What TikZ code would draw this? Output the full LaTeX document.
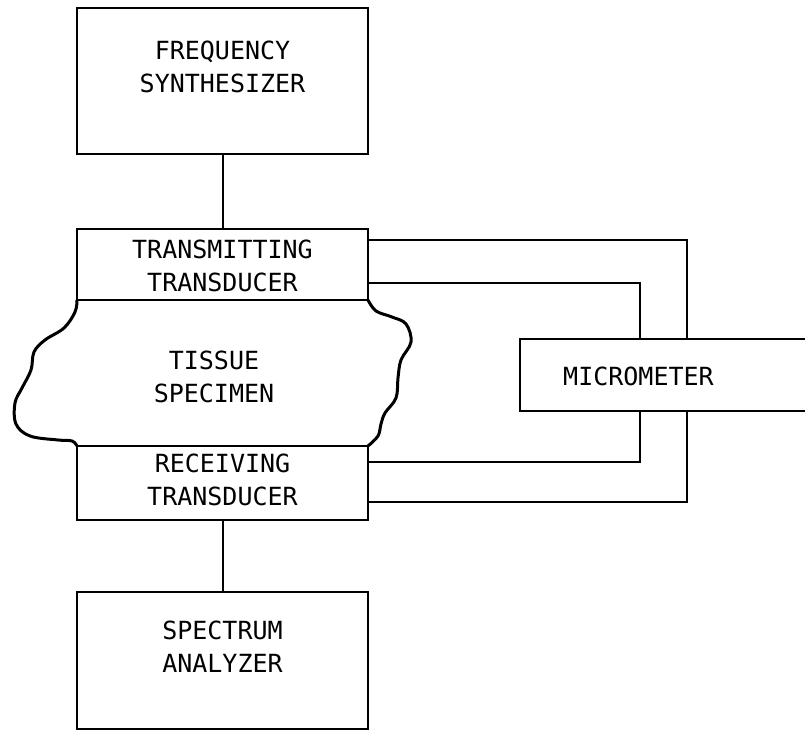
\documentclass[tikz,border=0pt]{standalone}
\usepackage{fontspec}
\newfontfamily\lettering{DejaVu Sans Mono}
\usepackage{tikz}

\begin{document}
\begin{tikzpicture}[x=0.5pt,y=-0.5pt]
\tikzstyle{every node}+=[inner sep=0pt]
\tikzstyle{unit}=[draw, line width=1pt, minimum width=145.5pt]
\tikzstyle{caption}=[font=\lettering\fontsize{12.5}{16.5}\selectfont, align=center]
\useasboundingbox (0,0) rectangle (805,732);
% boxes down the left
\node [unit, minimum height=73pt] (synth) at (222.5,81) {};
\node [caption] (synthtext) at (222.5,66.5) {FREQUENCY\\SYNTHESIZER};
\node [unit, minimum height=35.5pt] (tx) at (222.5,264.5) {};
\node [caption] (txtext) at (222.5,265.5) {TRANSMITTING\\TRANSDUCER};
\node [unit, minimum height=37pt] (rx) at (222.5,483) {};
\node [caption] (rxtext) at (222.5,480) {RECEIVING\\TRANSDUCER};
\node [unit, minimum height=68.5pt] (analyzer) at (222.5,660.5) {};
\node [caption] (analyzertext) at (222.5,647) {SPECTRUM\\ANALYZER};
\draw [line width=1pt] (synth.south) -- (tx.north);
\draw [line width=1pt] (rx.south) -- (analyzer.north);
% specimen between the transducers
\draw [line width=1.5pt] plot [smooth, tension=0.6] coordinates {(77,300) (75,312) (64,328) (45,340) (34,352) (31,370) (22,388) (15,403) (16,424) (30,436) (58,440) (72,441) (77,446)};
\draw [line width=1.5pt] plot [smooth, tension=0.6] coordinates {(368,300) (376,311) (392,317) (406,324) (411,342) (401,360) (398,378) (396,398) (385,413) (381,424) (378,436) (368,446)};
\node [caption] (tissue) at (214,377) {TISSUE\\SPECIMEN};
% micrometer runs off the right edge
\node [unit, minimum width=155pt, minimum height=36pt] (mic) at (675,375) {};
\node [caption] (mictext) at (638.5,376) {MICROMETER};
\draw [line width=1pt] ([yshift=12.25pt]tx.east) -| ([xshift=6pt]mic.north);
\draw [line width=1pt] ([yshift=-9.25pt]tx.east) -| ([xshift=-17.5pt]mic.north);
\draw [line width=1pt] ([xshift=-17.5pt]mic.south) |- ([yshift=10.5pt]rx.east);
\draw [line width=1pt] ([xshift=6pt]mic.south) |- ([yshift=-9.5pt]rx.east);
\end{tikzpicture}
\end{document}
